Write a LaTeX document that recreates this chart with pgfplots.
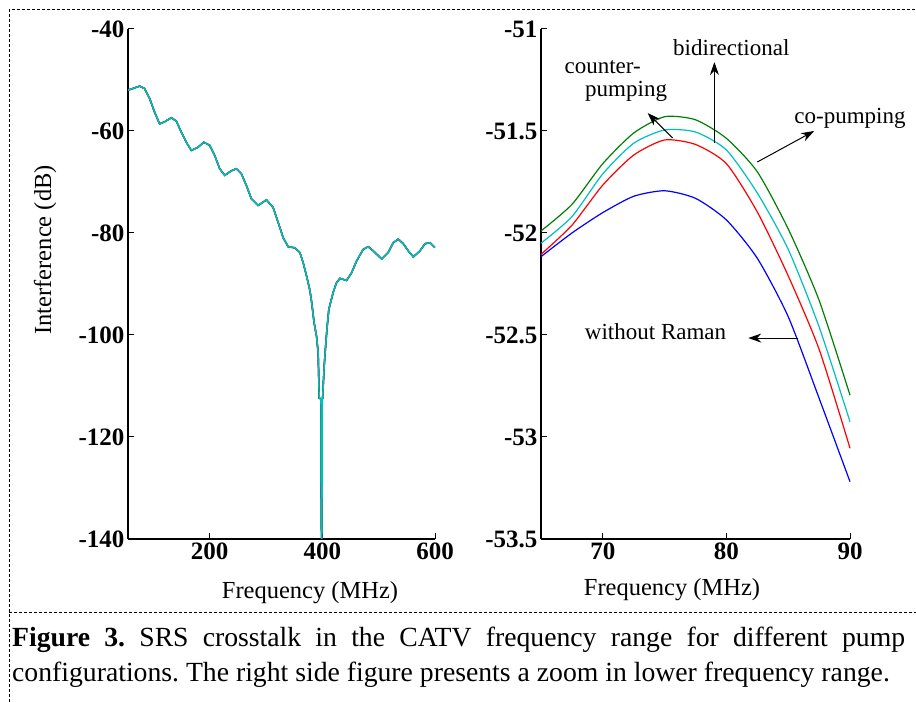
\documentclass[border=0pt]{standalone}
\usepackage{fontspec}
\setmainfont{Liberation Serif}
\usepackage{pgfplots}
\pgfplotsset{compat=1.18}
\usepackage{pgfplotstable}
\usetikzlibrary{arrows.meta}

\definecolor{mblue}{rgb}{0,0,1}
\definecolor{mred}{rgb}{1,0,0}
\definecolor{mgreen}{rgb}{0,0.5,0}
\definecolor{mcyan}{rgb}{0,0.75,0.75}

% full band, all four configurations lie on top of each other
\pgfplotstableread{
f     db
54.8  -52.0
63.7  -51.67
75.6  -51.2
84.4  -51.67
93.3  -53.6
102.2 -56.3
111.1 -58.6
120.0 -58.2
131.9 -57.4
140.7 -58.05
149.6 -60.2
158.5 -62.2
167.4 -63.8
179.3 -63.2
189.3 -62.2
200.0 -62.8
208.9 -64.8
217.8 -67.4
226.7 -68.7
238.5 -67.8
247.4 -67.4
256.3 -68.4
265.2 -70.7
274.1 -73.3
285.9 -74.6
300.8 -73.5
312.6 -75.0
321.5 -77.9
330.4 -80.9
339.3 -82.7
351.1 -82.9
360.0 -83.8
365.9 -85.8
371.9 -88.4
377.8 -91.2
380.7 -93.3
385.4 -97.6
389.6 -100.2
392.6 -103.5
394.4 -112.4
397.5 -112.5
398.2 -137.0
398.8 -140.0
399.4 -137.0
399.8 -112.6
400.4 -112.5
403.3 -106.1
406.2 -101.6
408.6 -98.3
411.5 -95.0
419.3 -91.6
425.0 -89.8
431.1 -88.9
443.0 -89.3
451.9 -87.8
460.7 -85.5
472.6 -83.2
481.5 -82.7
490.4 -83.5
505.2 -85.1
517.0 -83.8
525.9 -81.9
534.8 -81.2
543.7 -82.1
552.6 -83.5
561.5 -84.7
573.3 -83.5
582.2 -82.1
591.1 -81.9
600.0 -82.85
}\fullband

% zoom 65-90 MHz
\pgfplotstableread{
f     none     counter  bidir    co
65.0  -52.116  -52.105  -52.050  -51.990
67.5  -52.000  -51.962  -51.920  -51.860
70.0  -51.900  -51.765  -51.710  -51.660
72.5  -51.820  -51.618  -51.560  -51.510
75.0  -51.793  -51.544  -51.495  -51.430
77.5  -51.830  -51.566  -51.505  -51.445
80.0  -51.936  -51.660  -51.593  -51.536
82.5  -52.124  -51.897  -51.804  -51.700
85.0  -52.410  -52.210  -52.080  -51.980
87.5  -52.810  -52.570  -52.460  -52.330
90.0  -53.219  -53.055  -52.925  -52.795
}\zoomband

\pgfplotsset{
  srs/.style={
    scale only axis, height=510bp,
    axis x line=bottom, axis y line=left,
    axis line style={-, line width=1.1bp},
    tick align=inside, major tick length=6bp,
    tick style={black, line width=1bp},
    ticklabel style={font=\fontsize{25bp}{25bp}\selectfont\bfseries},
    /pgf/number format/assume math mode=true,
    label style={font=\fontsize{24.5bp}{26bp}\selectfont},
    every axis plot/.append style={line width=1.2bp},
  }
}

\begin{document}
\frenchspacing
\begin{tikzpicture}
\useasboundingbox (0,0) rectangle (916bp,702bp);

\begin{axis}[srs,
  at={(128bp,163bp)}, anchor=south west, width=307bp,
  xmin=55, xmax=600, ymin=-140, ymax=-40,
  xtick={200,400,600}, ytick={-140,-120,-100,-80,-60,-40},
  xlabel={Frequency (MHz)}, ylabel={Interference (dB)},
  xlabel style={at={(axis description cs:0.593,-0.106)}, anchor=center},
  ylabel style={at={(axis description cs:-0.27,0.567)}, anchor=center},
]
\addplot[mblue, line width=1.5bp] table[x=f,y=db] {\fullband};
\addplot[mred, line width=1.4bp] table[x=f,y=db] {\fullband};
\addplot[mgreen, line width=1.4bp] table[x=f,y=db] {\fullband};
\addplot[mcyan, line width=1.4bp] table[x=f,y=db] {\fullband};
\end{axis}

\begin{axis}[srs,
  at={(541bp,163bp)}, anchor=south west, width=309bp,
  xmin=65, xmax=90, ymin=-53.5, ymax=-51, clip=false,
  xtick={70,80,90}, ytick={-53.5,-53,-52.5,-52,-51.5,-51},
  xlabel={Frequency (MHz)},
  xlabel style={at={(axis description cs:0.424,-0.1)}, anchor=center},
]
\addplot[mblue, smooth, tension=0.4] table[x=f,y=none] {\zoomband};
\addplot[mred, smooth, tension=0.4] table[x=f,y=counter] {\zoomband};
\addplot[mcyan, smooth, tension=0.4] table[x=f,y=bidir] {\zoomband};
\addplot[mgreen, smooth, tension=0.4] table[x=f,y=co] {\zoomband};

\begin{scope}[font=\fontsize{23bp}{23bp}\selectfont,
  arr/.style={-{Stealth[length=13bp,width=9bp]}, line width=1bp}]
\node at (axis cs:80.4,-51.093) {bidirectional};
\draw[arr] (axis cs:79.03,-51.559) -- (axis cs:79.03,-51.162);
\node[align=left, inner sep=0pt] at (axis cs:71.05,-51.255)
  {counter-\\\hspace*{0.9em}pumping};
\draw[arr] (axis cs:75.65,-51.534) -- (axis cs:73.63,-51.412);
\node at (axis cs:90.0,-51.436) {co-pumping};
\draw[arr] (axis cs:82.5,-51.652) -- (axis cs:87.1,-51.5);
\node at (axis cs:74.27,-52.485) {without Raman};
\draw[arr] (axis cs:85.8,-52.515) -- (axis cs:81.77,-52.515);
\end{scope}
\end{axis}

\draw[line width=1bp, dash pattern=on 3bp off 2bp]
  (9bp,0) -- (9bp,692bp) -- (916bp,692bp);
\draw[line width=1bp, dash pattern=on 3bp off 2bp]
  (9bp,89bp) -- (916bp,89bp);

\node[anchor=north west, inner sep=0pt, align=left,
  font=\fontsize{27.7bp}{35bp}\selectfont] at (12bp,75bp)
  {\makebox[893bp][s]{\textbf{Figure 3.} SRS crosstalk in the CATV frequency range for different pump}\\
   configurations. The right side figure presents a zoom in lower frequency range.};
\end{tikzpicture}
\end{document}
